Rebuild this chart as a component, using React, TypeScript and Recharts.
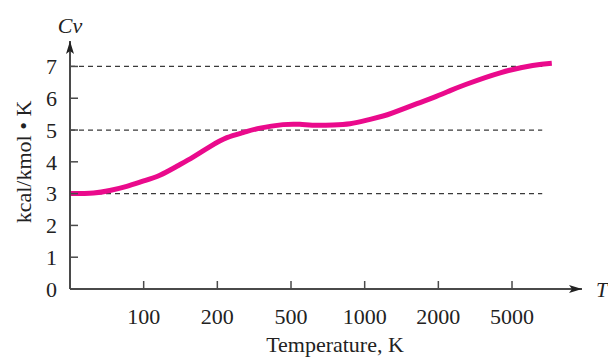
import { CartesianGrid, Line, LineChart, ReferenceLine, XAxis, YAxis } from "recharts";

// position along the temperature axis (1 = 100 K, 2 = 200 K, ...) and Cv
const axisPos = [0, 0.32, 0.54, 0.77, 0.99, 1.22, 1.45, 1.67, 1.9, 2.13, 2.35, 2.58, 2.89, 3.12, 3.35, 3.57, 3.8, 4.03, 4.25, 4.38, 4.71, 4.93, 5.16, 5.38, 5.84, 6.28, 6.54];
const cvValues = [3.0, 3.02, 3.1, 3.23, 3.39, 3.58, 3.86, 4.15, 4.48, 4.76, 4.92, 5.06, 5.17, 5.18, 5.15, 5.16, 5.2, 5.31, 5.44, 5.54, 5.83, 6.02, 6.24, 6.44, 6.8, 7.03, 7.1];

const tempTicks = [1, 2, 3, 4, 5, 6];
const tempLabels = ['100', '200', '500', '1000', '2000', '5000'];
const cvTicks = [0, 1, 2, 3, 4, 5, 6, 7];
const dashedLevels = [3, 5, 7];
const dashedEnd = 6.41;

const data = axisPos.map((p, i) => ({ pos: p, cv: cvValues[i] }));

const font = '"Liberation Serif", "DejaVu Serif", serif';
const axisColor = '#4a4a4a';

export default function App() {
  return (
    <div style={{ position: 'absolute', left: 0, top: 0, width: 608, height: 361, background: '#fff' }}>
      <svg width={0} height={0} style={{ position: 'absolute' }}>
        <defs>
          <marker id="arrow" viewBox="0 0 13 8" refX={13} refY={4} markerWidth={13} markerHeight={8}
            markerUnits="userSpaceOnUse" orient="auto-start-reverse">
            <path d="M0,0 L13,4 L0,8 L3,4 z" fill="#222" />
          </marker>
        </defs>
      </svg>
      <LineChart width={608} height={361} data={data} margin={{ top: 41, right: 26, bottom: 0, left: 0 }}>
        <CartesianGrid stroke="none" />
        <XAxis
          dataKey="pos"
          type="number"
          domain={[0, 6.95]}
          ticks={tempTicks}
          interval={0}
          tickFormatter={(v: number) => tempLabels[tempTicks.indexOf(v)]}
          axisLine={{ stroke: axisColor, strokeWidth: 2, markerEnd: 'url(#arrow)' }}
          tickLine={{ stroke: axisColor, strokeWidth: 1.5 }}
          tickSize={-8}
          tickMargin={27}
          height={72}
          tick={{ fill: '#222', fontSize: 22, fontFamily: font }}
          allowDataOverflow
        />
        <YAxis
          type="number"
          domain={[0, 7.8]}
          ticks={cvTicks}
          interval={0}
          axisLine={{ stroke: axisColor, strokeWidth: 2, markerStart: 'url(#arrow)' }}
          tickLine={{ stroke: axisColor, strokeWidth: 1.5 }}
          tickSize={-8}
          tickMargin={21}
          width={70}
          tick={{ fill: '#222', fontSize: 22, fontFamily: font }}
          allowDataOverflow
        />
        {dashedLevels.map((lv) => (
          <ReferenceLine
            key={lv}
            segment={[{ x: 0, y: lv }, { x: dashedEnd, y: lv }]}
            stroke="#3a3a3a"
            strokeWidth={1.3}
            strokeDasharray="5 4"
          />
        ))}
        <Line
          type="natural"
          dataKey="cv"
          stroke="#EA0A8C"
          strokeWidth={5}
          dot={false}
          isAnimationActive={false}
          strokeLinecap="butt"
        />
        <text x={70} y={33} textAnchor="middle" fontFamily={font} fontStyle="italic" fontSize={22} fill="#222">Cv</text>
        <text x={596} y={297} textAnchor="start" fontFamily={font} fontStyle="italic" fontSize={21} fill="#222">T</text>
        <text x={335} y={352} textAnchor="middle" fontFamily={font} fontSize={22} fill="#222">Temperature, K</text>
        <text x={0} y={0} transform="translate(31,162) rotate(-90)" textAnchor="middle" fontFamily={font} fontSize={22} fill="#222">kcal/kmol • K</text>
      </LineChart>
    </div>
  );
}
